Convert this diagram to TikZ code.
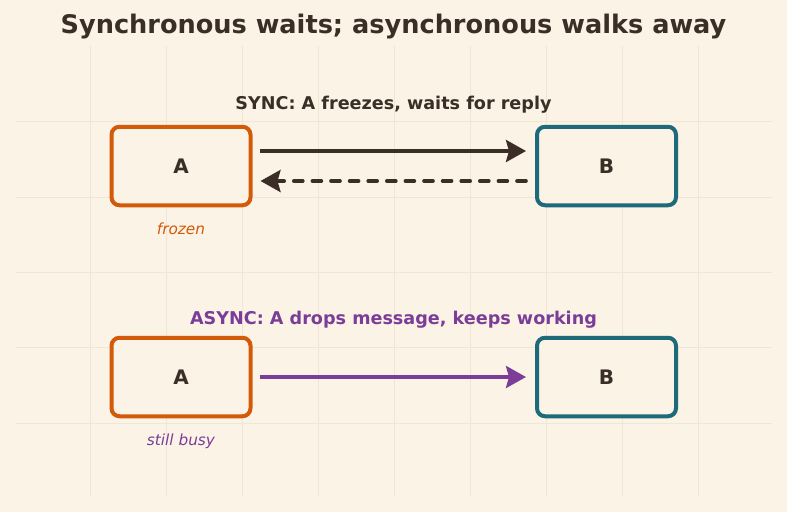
\documentclass[tikz,border=0pt]{standalone}
\usepackage{fontspec}
\setmainfont{DejaVu Sans}
\usetikzlibrary{arrows.meta}
\definecolor{bgc}{HTML}{FAF3E6}
\definecolor{gridc}{HTML}{EFE6D5}
\definecolor{ink}{HTML}{3A2E26}
\definecolor{orng}{HTML}{D35A08}
\definecolor{teal}{HTML}{1C6A7A}
\definecolor{purp}{HTML}{7B3D98}
\tikzset{
  box/.style={draw, line width=4pt, rounded corners=8pt, minimum width=139pt, minimum height=78.5pt, fill=bgc, text=ink, font=\bfseries\fontsize{20}{24}\selectfont, inner sep=0pt},
  abox/.style={box, draw=orng},
  bbox/.style={box, draw=teal},
  msg/.style={line width=3.6pt, -{Stealth[length=20pt,width=22pt,inset=3pt]}},
  caption/.style={font=\bfseries\fontsize{17.6}{21}\selectfont},
  note/.style={font=\itshape\fontsize{15.3}{18}\selectfont},
}
\begin{document}
\begin{tikzpicture}[x=1pt,y=-1pt]
\useasboundingbox (0,0) rectangle (787,512);
\fill[bgc] (0,0) rectangle (787,512);
\foreach \gx in {90,166,242,318,394,470,546,622,698} \draw[gridc, line width=0.7pt] (\gx,46) -- (\gx,496);
\foreach \gy in {121,197,272,347,423} \draw[gridc, line width=0.7pt] (16,\gy) -- (772,\gy);

\node[text=ink, font=\bfseries\fontsize{25.6}{30}\selectfont] (title) at (393.5,27) {Synchronous waits; asynchronous walks away};

\node[caption, text=ink] (synclabel) at (393.5,105) {SYNC: A freezes, waits for reply};
\node[abox] (a1) at (181,166) {A};
\node[bbox] (b1) at (606.5,166) {B};
\node[note, text=orng] (frozen) at (181,229) {frozen};
\draw[msg, ink] ([xshift=7pt,yshift=15pt]a1.east) -- ([xshift=-9pt,yshift=15pt]b1.west);
\draw[msg, ink, line cap=round, dash pattern=on 9pt off 9.6pt] ([xshift=-9pt,yshift=-15pt]b1.west) -- ([xshift=8pt,yshift=-15pt]a1.east);

\node[caption, text=purp] (asynclabel) at (393.5,320) {ASYNC: A drops message, keeps working};
\node[abox] (a2) at (181,377) {A};
\node[bbox] (b2) at (606.5,377) {B};
\node[note, text=purp] (busy) at (181,441) {still busy};
\draw[msg, purp] ([xshift=7pt]a2.east) -- ([xshift=-9pt]b2.west);
\end{tikzpicture}
\end{document}
